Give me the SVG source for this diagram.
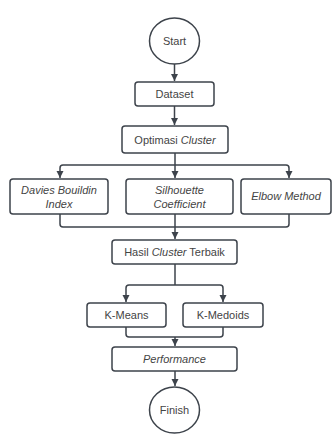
<svg xmlns="http://www.w3.org/2000/svg" width="333" height="438" viewBox="0 0 333 438">
<defs>
<style>
.n{fill:#fff;stroke:#3d434b;stroke-width:1.5}
.t{font-family:"Liberation Sans",Arial,sans-serif;font-size:11px;fill:#444;text-anchor:middle}
.i{font-style:italic}
.c{fill:none;stroke:#3d434b;stroke-width:1.5}
</style>
<marker id="ah" markerUnits="userSpaceOnUse" markerWidth="8" markerHeight="8" refX="7" refY="4" orient="auto">
<path d="M0,0.5 L7,4 L0,7.5 z" fill="#3d434b"/>
</marker>
</defs>
<rect width="333" height="438" fill="#fff"/>
<g id="connectors">
<path class="c" d="M174.5,64 V81" marker-end="url(#ah)"/>
<path class="c" d="M174.5,106 V125" marker-end="url(#ah)"/>
<path class="c" d="M175,153 V165"/>
<path class="c" d="M175,165 H63 Q60,165 60,168 V178" marker-end="url(#ah)"/>
<path class="c" d="M175,165 H286 Q289,165 289,168 V178" marker-end="url(#ah)"/>
<path class="c" d="M175,165 V178" marker-end="url(#ah)"/>
<path class="c" d="M60,214 V224 Q60,227 63,227 H286 Q289,227 289,224 V214"/>
<path class="c" d="M175,214 V239" marker-end="url(#ah)"/>
<path class="c" d="M175,264 V285"/>
<path class="c" d="M175,285 H129 Q126,285 126,288 V302" marker-end="url(#ah)"/>
<path class="c" d="M175,285 H220 Q223,285 223,288 V302" marker-end="url(#ah)"/>
<path class="c" d="M126,327 V334 Q126,337 129,337 H220 Q223,337 223,334 V327"/>
<path class="c" d="M175,337 V346" marker-end="url(#ah)"/>
<path class="c" d="M175,371 V386" marker-end="url(#ah)"/>
</g>
<g id="start">
<ellipse class="n" cx="174.5" cy="41" rx="25" ry="23"/>
<text class="t" x="174.5" y="45">Start</text>
</g>
<g id="dataset">
<rect class="n" x="135" y="82" width="79" height="24" rx="3"/>
<text class="t" x="174.5" y="98">Dataset</text>
</g>
<g id="optimasi">
<rect class="n" x="122" y="126" width="106" height="27" rx="3"/>
<text class="t" x="175" y="143.5">Optimasi <tspan class="i">Cluster</tspan></text>
</g>
<g id="davies">
<rect class="n" x="10" y="179" width="98" height="35" rx="3"/>
<text class="t i" x="59" y="194">Davies Bouildin</text>
<text class="t i" x="59" y="208">Index</text>
</g>
<g id="silhouette">
<rect class="n" x="126" y="179" width="107" height="35" rx="3"/>
<text class="t i" x="179.5" y="194">Silhouette</text>
<text class="t i" x="179.5" y="208">Coefficient</text>
</g>
<g id="elbow">
<rect class="n" x="241" y="179" width="90" height="35" rx="3"/>
<text class="t i" x="286" y="200">Elbow Method</text>
</g>
<g id="hasil">
<rect class="n" x="112" y="240" width="125" height="24" rx="3"/>
<text class="t" x="174.5" y="256">Hasil <tspan class="i">Cluster</tspan> Terbaik</text>
</g>
<g id="kmeans">
<rect class="n" x="87" y="303" width="79" height="24" rx="3"/>
<text class="t" x="126.5" y="319">K-Means</text>
</g>
<g id="kmedoids">
<rect class="n" x="183" y="303" width="80" height="24" rx="3"/>
<text class="t" x="223" y="319">K-Medoids</text>
</g>
<g id="performance">
<rect class="n" x="112" y="347" width="125" height="24" rx="3"/>
<text class="t i" x="174.5" y="363">Performance</text>
</g>
<g id="finish">
<ellipse class="n" cx="174.5" cy="410" rx="25" ry="23"/>
<text class="t" x="174.5" y="414">Finish</text>
</g>
</svg>
